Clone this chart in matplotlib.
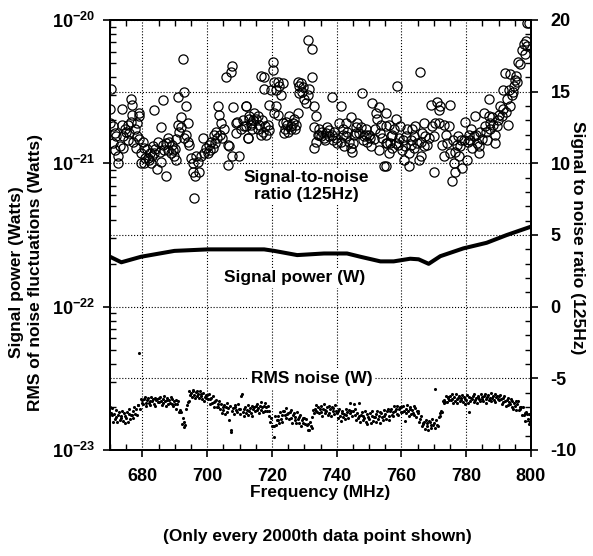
import numpy as np
import matplotlib
matplotlib.use("Agg")
import matplotlib.pyplot as plt
from matplotlib.ticker import MultipleLocator, FixedLocator, NullFormatter, FuncFormatter

plt.rcParams["font.family"] = ["Liberation Sans", "DejaVu Sans"]
plt.rcParams["font.weight"] = "bold"
plt.rcParams["axes.unicode_minus"] = False
plt.rcParams["mathtext.fontset"] = "custom"
plt.rcParams["mathtext.rm"] = "Liberation Sans:bold"
plt.rcParams["mathtext.bf"] = "Liberation Sans:bold"
plt.rcParams["mathtext.it"] = "Liberation Sans:bold"

# =========================
# Donnees
# =========================

# Rapport signal/bruit (axe de droite), cercles
snr_freq = [
    670.4, 670.0, 670.0, 671.0, 671.5, 671.0, 671.5, 672.5, 672.5, 673.6,
    673.6, 674.0, 674.0, 675.0, 675.5, 676.0, 676.4, 676.8, 676.8, 677.0,
    677.6, 678.0, 678.4, 678.9, 679.1, 679.1, 679.6, 679.6, 680.1, 680.6,
    680.6, 681.7, 682.2, 682.7, 683.2, 683.7, 683.7, 684.6, 684.8, 685.3,
    685.6, 685.8, 686.3, 686.3, 687.3, 687.3, 687.8, 688.3, 688.8, 689.4,
    689.9, 690.4, 690.4, 690.9, 690.9, 691.4, 692.0, 692.5, 693.0, 693.5,
    693.5, 694.0, 694.0, 694.5, 695.0, 695.5, 695.5, 696.0, 696.3, 696.6,
    697.1, 697.6, 698.1, 698.6, 699.1, 699.6, 700.2, 700.7, 701.2, 701.7,
    702.2, 702.4, 702.7, 703.2, 703.7, 704.2, 704.7, 705.3, 705.8, 706.3,
    706.3, 706.8, 707.3, 707.8, 707.8, 708.1, 708.8, 709.3, 709.8, 710.4,
    711.4, 711.9, 712.5, 713.0, 713.5,
    712.0, 712.0, 712.5, 713.0, 713.5, 714.0, 714.6, 715.1, 715.6, 716.1,
    716.6, 716.6, 717.1, 717.7, 717.7, 718.2, 718.7, 719.2, 719.7, 720.2,
    720.2, 720.7, 720.7, 721.2, 721.2, 721.8, 721.8, 722.3, 722.8, 723.3,
    723.3, 723.8, 724.3, 724.8, 725.3, 725.9, 726.4, 726.9, 727.4, 727.9,
    727.9, 728.4, 728.9, 729.4, 730.0, 730.5, 731.0, 731.0, 731.5, 732.5,
    732.5, 733.0, 733.5, 733.0, 733.5, 733.0, 734.1, 734.6, 735.1, 735.6,
    736.1, 736.6, 737.1, 737.7, 738.7, 738.7, 739.2, 739.7, 740.2, 740.7,
    741.2, 741.2, 741.8, 742.3, 742.8, 743.3, 743.8, 744.3, 744.3, 744.8,
    745.3, 745.9, 746.4, 746.9, 747.4, 747.9, 748.4, 748.9, 749.4, 750.0,
    750.5, 751.0, 751.5, 752.0, 752.5, 753.0, 753.0, 753.6, 754.1, 754.6,
    755.1, 755.1,
    755.1, 755.1, 755.6, 756.1, 756.1, 756.7, 757.2, 757.7, 758.2, 758.2,
    758.7, 759.2, 759.7, 760.2, 760.8, 761.3, 761.8, 762.3, 762.3, 762.8,
    763.3, 763.8, 764.3, 764.9, 765.4, 765.7, 765.9, 766.4, 766.9, 767.4,
    767.9, 768.4, 769.0, 769.5, 770.0, 770.0, 770.5, 771.0, 771.5, 771.5,
    772.0, 772.5, 773.1, 773.1, 773.6, 774.1, 774.6, 775.1, 775.1, 775.6,
    776.1, 776.6, 776.6, 777.2, 777.7, 778.2, 778.7, 779.2, 779.7, 780.2,
    780.8, 781.3, 781.8, 782.3, 782.8, 783.3, 783.8, 784.3, 784.9, 785.4,
    785.9, 786.4, 786.9, 786.9, 787.4, 787.9, 788.4, 789.0, 789.5, 790.0,
    790.5, 791.0, 791.5, 792.0, 792.5, 792.8, 793.1, 793.6, 793.6, 794.1,
    794.6, 795.1, 795.6, 796.1, 796.6, 797.2, 797.7, 798.2, 798.5, 798.9,
    798.7, 799.5,
]
snr_valeur = [
    15.2, 13.8, 12.8, 12.6, 12.1, 11.4, 10.9, 10.5, 10.0, 13.8,
    12.7, 11.9, 11.1, 12.2, 12.7, 12.1, 14.5, 14.1, 13.4, 11.5,
    12.4, 11.1, 12.8, 13.5, 13.3, 11.7, 10.7, 10.0, 11.5, 11.1,
    10.0, 10.4, 10.7, 10.0, 11.2, 13.7, 10.7, 9.6, 11.5, 10.8,
    12.5, 10.1, 14.4, 11.3, 9.1, 11.4, 10.9, 11.5, 10.7, 10.9,
    10.5, 10.2, 11.7, 14.6, 12.7, 12.2, 13.2, 17.3, 15.0, 14.0,
    12.0, 12.8, 11.5, 11.3, 10.4, 10.0, 9.4, 7.6, 9.1, 10.5,
    10.1, 9.4, 10.5, 11.8, 10.7, 11.1, 10.7, 11.3, 11.5, 11.1,
    12.0, 11.4, 12.2, 14.0, 13.4, 12.8, 11.8, 12.4, 16.0, 9.9,
    11.3, 11.2, 16.4, 16.8, 10.5, 13.9, 12.8, 12.9, 10.5, 12.4,
    12.6, 14.0, 11.8, 13.1, 12.7,
    14.0, 12.6, 11.8, 13.3, 12.8, 12.4, 13.5, 13.1, 13.3, 12.7,
    12.0, 16.1, 12.2, 16.0, 15.2, 12.0, 12.7, 14.1, 15.1, 17.1,
    16.5, 15.7, 13.5, 15.1, 14.0, 15.7, 13.4, 15.4, 14.8, 15.6,
    12.8, 12.1, 12.9, 12.7, 13.3, 12.6, 12.8, 13.1, 12.7, 13.5,
    15.7, 15.4, 15.6, 15.0, 14.5, 14.2, 18.6, 14.8, 15.2, 18.0,
    16.0, 14.0, 13.3, 12.5, 11.5, 11.1, 12.0, 12.4, 11.9, 12.2,
    11.8, 12.1, 12.5, 11.9, 14.6, 12.0, 12.2, 11.8, 11.4, 12.8,
    14.0, 11.5, 12.4, 11.2, 12.8, 12.2, 11.5, 13.2, 11.1, 10.8,
    12.0, 12.5, 12.8, 12.1, 12.5, 14.9, 11.9, 12.4, 11.5, 12.0,
    11.2, 14.2, 11.7, 13.5, 13.1, 13.9, 10.9, 12.7, 11.8, 9.8,
    11.4, 12.6,
    13.5, 9.8, 11.4, 12.7, 10.7, 11.9, 11.1, 12.4, 13.1, 11.4,
    15.4, 11.8, 12.6, 10.9, 10.2, 11.9, 12.4, 10.7, 9.8, 11.3,
    12.4, 11.9, 12.6, 11.4, 10.2, 16.4, 10.5, 12.1, 12.8, 11.9,
    11.3, 11.8, 14.1, 12.6, 9.4, 11.9, 12.8, 14.3, 13.7, 12.8,
    14.0, 11.3, 10.5, 12.7, 12.0, 11.4, 12.6, 14.1, 10.7, 8.8,
    10.0, 10.8, 9.4, 11.3, 10.5, 11.2, 9.7, 11.6, 12.9, 10.2,
    12.0, 11.6, 11.1, 11.9, 13.3, 11.4, 10.7, 12.2, 11.7, 13.5,
    12.6, 11.6, 14.5, 13.3, 12.4, 13.2, 12.7, 11.4, 12.6, 13.4,
    14.0, 13.3, 15.1, 16.3, 14.5, 12.7, 15.1, 16.2, 14.0, 14.8,
    15.4, 15.8, 15.7, 17.1, 16.9, 17.9, 18.3, 17.6, 18.5, 18.2,
    19.8, 19.8,
]

# cercles supplementaires dans les amas denses
snr_freq_amas = [
    672.0, 673.0, 674.5, 675.5, 676.5, 678.2, 680.9, 681.3, 682.0, 683.0,
    684.0, 686.8, 688.0, 689.0, 690.0, 691.8, 693.0, 701.0, 703.0, 704.0,
    709.0, 711.0, 714.3, 715.8, 716.9, 718.0, 719.0, 724.0, 725.0, 726.0,
    727.0, 728.5, 729.6, 734.5, 736.5, 737.5, 739.0, 742.0, 743.0, 745.0,
    746.0, 748.0, 749.0, 750.2, 751.8, 753.3, 756.4, 757.0, 759.0, 760.5,
    761.0, 763.0, 764.0, 766.0, 767.0, 776.0, 777.5, 778.5, 780.5, 781.5,
    783.0, 784.0, 786.0, 787.2, 788.8, 789.8, 791.3, 792.3, 794.3, 795.4,
]
snr_valeur_amas = [
    11.9, 11.2, 12.4, 11.6, 12.9, 11.9, 10.4, 11.0, 10.2, 10.5,
    11.0, 10.9, 11.8, 11.3, 11.0, 12.5, 11.8, 10.9, 11.8, 12.0,
    12.1, 13.0, 13.0, 12.4, 13.0, 12.6, 12.3, 12.4, 12.2, 12.4,
    12.4, 14.9, 15.3, 12.0, 11.6, 12.3, 11.6, 12.0, 11.9, 11.4,
    12.1, 11.6, 12.0, 11.8, 12.4, 12.1, 11.4, 12.0, 11.3, 11.6,
    11.2, 11.6, 11.1, 11.5, 11.2, 11.6, 11.9, 11.6, 11.5, 12.4,
    12.0, 11.2, 12.2, 12.8, 12.0, 13.0, 13.8, 13.6, 15.0, 16.1,
]

# Puissance du signal (W), trait epais
signal_freq = [670.0, 673.5, 679.6, 689.9, 700.2, 717.6, 720.7, 727.8, 736.1, 743.2,
               747.3, 753.5, 757.6, 762.7, 765.3, 768.4, 772.0, 779.1, 786.3, 792.5, 799.9]
signal_puissance = [2.23e-22, 2.04e-22, 2.23e-22, 2.45e-22, 2.51e-22, 2.51e-22, 2.45e-22,
                    2.29e-22, 2.35e-22, 2.35e-22, 2.23e-22, 2.07e-22, 2.07e-22, 2.16e-22,
                    2.14e-22, 1.99e-22, 2.25e-22, 2.55e-22, 2.79e-22, 3.16e-22, 3.61e-22]

# Bruit RMS (unites de 1e-23 W), un point tous les 0.25 MHz de 670 a 800
bruit_pas = 0.25
bruit_rms = [
    2.00, 1.81, 1.96, 1.75, 1.58, 1.78, 1.64, 1.90, 1.70, 1.56, 1.76, 1.84, 1.62, 1.74, 1.66, 1.86, 1.60, 1.80, 1.54, 1.72,
    1.66, 1.84, 1.56, 1.77, 1.92, 1.65, 1.76, 1.76, 1.88, 1.68, 1.98, 1.79, 1.92, 1.75, 2.06, 2.06, 4.75, 1.94, 2.26, 2.12,
    2.22, 2.08, 2.28, 2.34, 2.14, 2.02, 2.24, 2.30, 2.12, 2.20, 2.06, 2.36, 2.18, 2.26, 2.10, 2.32, 2.04, 2.22, 2.28, 2.16,
    2.30, 2.16, 2.36, 2.20, 2.06, 2.26, 2.12, 2.38, 2.18, 2.04, 2.24, 2.32, 2.10, 2.22, 2.14, 2.34, 2.08, 2.28, 2.02, 2.20,
    2.09, 2.24, 1.94, 2.09, 2.18, 1.85, 1.90, 1.83, 1.83, 1.53, 1.66, 1.44, 1.57, 1.50, 1.93, 2.06, 2.16, 2.18, 2.56, 2.43,
    2.50, 2.36, 2.56, 2.62, 2.42, 2.30, 2.52, 2.56, 2.38, 2.45, 2.30, 2.58, 2.40, 2.46, 2.28, 2.50, 2.20, 2.36, 2.42, 2.30,
    2.42, 2.26, 2.44, 2.27, 2.11, 2.29, 2.13, 2.38, 2.16, 2.00, 2.18, 2.24, 2.01, 2.11, 2.01, 2.19, 1.92, 2.10, 1.82, 1.98,
    1.89, 2.07, 1.79, 1.99, 2.13, 1.85, 1.95, 1.62, 2.03, 1.38, 1.34, 1.87, 1.97, 1.77, 2.05, 2.01, 1.91, 1.83, 2.11, 1.93,
    1.92, 1.78, 2.40, 2.46, 1.84, 1.72, 1.94, 2.00, 1.82, 1.90, 1.76, 2.06, 1.88, 1.96, 1.80, 2.02, 1.74, 1.92, 1.98, 1.86,
    2.02, 1.89, 2.10, 1.95, 1.82, 2.03, 1.90, 2.17, 1.98, 1.84, 2.04, 2.12, 1.88, 1.98, 1.88, 2.04, 1.74, 1.88, 1.56, 1.66,
    1.46, 1.46, 1.24, 1.48, 1.73, 1.50, 1.62, 1.62, 1.74, 1.54, 1.84, 1.64, 1.76, 1.58, 1.88, 1.86, 1.76, 1.68, 1.96, 1.78,
    1.80, 1.65, 1.84, 1.89, 1.68, 1.55, 1.76, 1.81, 1.62, 1.69, 1.54, 1.83, 1.64, 1.71, 1.54, 1.75, 1.46, 1.63, 1.68, 1.55,
    1.66, 1.52, 1.65, 1.50, 1.37, 1.51, 1.39, 1.58, 1.46, 1.43, 1.71, 1.90, 1.82, 1.94, 1.88, 2.05, 1.84, 2.00, 1.80, 1.94,
    1.84, 2.02, 1.74, 1.94, 2.08, 1.80, 1.90, 1.88, 1.98, 1.76, 2.04, 1.82, 1.92, 1.72, 2.00, 1.96, 1.86, 1.78, 2.06, 1.88,
    1.80, 1.66, 1.86, 1.92, 1.72, 1.60, 1.82, 1.88, 1.70, 1.78, 1.64, 1.94, 1.76, 1.84, 1.68, 1.90, 2.12, 1.80, 1.86, 1.74,
    1.86, 2.10, 1.92, 1.75, 1.61, 1.81, 1.67, 2.14, 1.72, 1.57, 1.76, 1.84, 1.62, 1.74, 1.66, 1.86, 1.58, 1.78, 1.52, 1.70,
    1.64, 1.82, 1.54, 1.74, 1.88, 1.60, 1.71, 1.69, 1.79, 1.57, 1.86, 1.64, 1.74, 1.55, 1.84, 1.80, 1.70, 1.62, 1.90, 1.72,
    1.78, 1.65, 1.86, 1.93, 1.74, 1.63, 1.86, 1.93, 1.76, 1.85, 1.72, 2.03, 1.86, 1.94, 1.79, 2.02, 1.75, 1.94, 2.01, 1.83,
    1.98, 1.84, 2.04, 1.88, 1.60, 1.94, 1.80, 2.06, 1.86, 1.72, 1.92, 2.00, 1.78, 1.90, 1.82, 2.02, 1.76, 1.96, 1.70, 1.88,
    1.80, 1.88, 1.57, 1.65, 1.72, 1.47, 1.54, 1.51, 1.58, 1.41, 1.63, 1.46, 1.54, 1.38, 1.60, 1.57, 1.49, 1.42, 1.65, 1.50,
    1.54, 1.42, 2.66, 1.63, 1.50, 1.46, 1.69, 1.80, 1.74, 1.88, 1.85, 2.18, 2.12, 2.25, 2.17, 2.38, 2.15, 2.30, 2.34, 2.25,
    2.38, 2.24, 2.44, 2.28, 2.14, 2.34, 2.20, 2.46, 2.26, 2.12, 2.32, 2.40, 2.18, 2.30, 2.22, 2.42, 2.16, 2.36, 2.10, 2.28,
    2.24, 2.42, 2.14, 2.34, 1.84, 2.20, 2.30, 2.28, 2.38, 2.16, 2.44, 2.22, 2.32, 2.12, 2.40, 2.36, 2.26, 2.18, 2.46, 2.28,
    2.34, 2.20, 2.40, 2.46, 2.26, 2.14, 2.36, 2.42, 2.24, 2.32, 2.18, 2.48, 2.30, 2.38, 2.22, 2.44, 2.16, 2.34, 2.40, 2.28,
    2.38, 2.23, 2.43, 2.26, 2.11, 2.30, 2.15, 2.40, 2.20, 2.03, 2.22, 2.29, 2.06, 2.17, 2.09, 2.28, 2.01, 2.20, 1.94, 2.12,
    2.04, 2.20, 1.90, 2.08, 2.20, 1.90, 1.98, 1.93, 2.00, 1.75, 2.00, 1.75, 1.82, 1.59, 1.84, 1.77, 1.64, 1.53, 1.78, 1.57,
    1.55,
]
bruit_freq = 670 + bruit_pas * np.arange(len(bruit_rms))

puissance_ticks = [1e-23, 1e-22, 1e-21, 1e-20]

# =========================
# Figure
# =========================
fig = plt.figure(figsize=(5.93, 5.56), dpi=100)
ax = fig.add_axes([110 / 593, 106 / 556, 421 / 593, 430 / 556])
ax2 = ax.twinx()

# axe de gauche : puissance (log)
ax.plot(signal_freq, signal_puissance, color="black", lw=2.9, solid_capstyle="round")
ax.scatter(bruit_freq, np.array(bruit_rms) * 1e-23, s=5, color="black", lw=0, zorder=3)
ax.set_yscale("log")
ax.set_ylim(1e-23, 1e-20)
ax.set_xlim(670, 800)
ax.yaxis.set_major_locator(FixedLocator(puissance_ticks))
mineurs = [k * p for p in puissance_ticks[:-1] for k in range(2, 10)]
ax.yaxis.set_minor_locator(FixedLocator(mineurs))
ax.yaxis.set_minor_formatter(NullFormatter())
ax.yaxis.set_major_formatter(FuncFormatter(lambda v, p: r"$\mathbf{10^{%d}}$" % round(np.log10(v))))
ax.xaxis.set_major_locator(MultipleLocator(20))
ax.xaxis.set_minor_locator(MultipleLocator(5))
ax.grid(True, axis="x", which="major", linestyle=":", color="black", lw=0.8)
ax.tick_params(which="major", direction="out", length=5, width=1.2, labelsize=13, pad=6)
ax.tick_params(which="minor", direction="in", length=4, width=1.0, top=True)
ax.tick_params(axis="x", which="major", top=False, pad=8)

# axe de droite : rapport signal/bruit
ax2.plot(snr_freq, snr_valeur, "o", mfc="none", mec="black", ms=6.6, mew=0.9)
ax2.plot(snr_freq_amas, snr_valeur_amas, "o", mfc="none", mec="black", ms=6.6, mew=0.9)
ax2.set_ylim(-10, 20)
ax2.yaxis.set_major_locator(MultipleLocator(5))
ax2.yaxis.set_minor_locator(MultipleLocator(1))
ax2.grid(True, axis="y", which="major", linestyle=":", color="black", lw=0.8)
ax2.tick_params(which="major", direction="out", length=5, width=1.2, labelsize=13, pad=9)
ax2.tick_params(which="minor", direction="in", length=4, width=1.0)

for a in (ax, ax2):
    for s in a.spines.values():
        s.set_linewidth(1.4)

# etiquettes des courbes
boite = dict(facecolor="white", edgecolor="none", pad=2)
ax2.text(730.6, 8.4, "Signal-to-noise\nratio (125Hz)", ha="center", va="center",
         fontsize=12.5, fontweight="bold", linespacing=1.15, bbox=boite, zorder=10)
ax2.text(727.0, 2.0, "Signal power (W)", ha="center", va="center",
         fontsize=12.5, fontweight="bold", bbox=boite, zorder=10)
ax2.text(732.2, -5.0, "RMS noise (W)", ha="center", va="center",
         fontsize=12.5, fontweight="bold", bbox=boite, zorder=10)

# titres des axes
fig.text(320 / 593, 1 - 493 / 556, "Frequency (MHz)", ha="center", va="center",
         fontsize=12.5, fontweight="bold")
fig.text(317 / 593, 1 - 537 / 556, "(Only every 2000th data point shown)", ha="center",
         va="center", fontsize=12.5, fontweight="bold")
fig.text(26 / 593, 1 - 272 / 556, "Signal power (Watts)\nRMS of noise fluctuations (Watts)",
         ha="center", va="center", rotation=90, fontsize=12.5, fontweight="bold", linespacing=1.3)
fig.text(577 / 593, 1 - 238 / 556, "Signal to noise ratio (125Hz)", ha="center", va="center",
         rotation=270, fontsize=12.5, fontweight="bold")

fig.savefig("out.png", dpi=100, facecolor="white")
